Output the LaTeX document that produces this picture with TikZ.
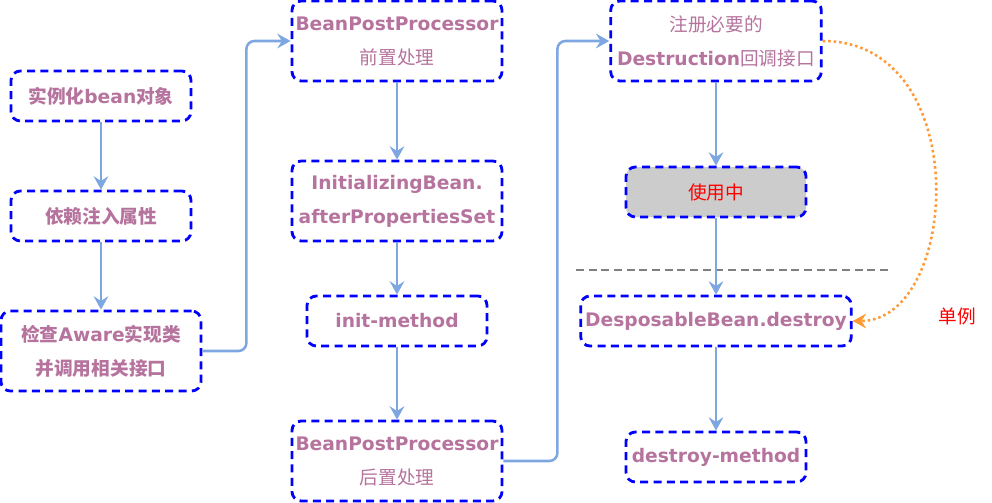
\documentclass[tikz,border=0pt]{standalone}
\usepackage{fontspec}
\setmainfont{DejaVu Sans}
\newfontfamily\cjk{Noto Sans CJK SC}
\usetikzlibrary{arrows.meta}
\definecolor{txtc}{RGB}{181,115,157}
\definecolor{arrc}{RGB}{126,166,224}
\definecolor{orng}{RGB}{255,153,51}
\newcommand{\cn}[1]{{\mdseries\cjk #1}}
\newcommand{\cnb}[1]{{\cjk #1}}

\begin{document}
\begin{tikzpicture}[x=0.75pt, y=-0.75pt,
	box/.style={draw=blue, line width=2.1pt, dash pattern=on 6pt off 4pt, rounded corners=7pt, inner sep=0pt, text=txtc, align=center, font=\bfseries\fontsize{14}{25.5}\selectfont},
	arr/.style={draw=arrc, line width=1.9pt, rounded corners=6pt, -{Stealth[length=10pt,width=11pt,inset=3.5pt]}}]
	\useasboundingbox (0,0) rectangle (992,503);
	% left column
	\node [box, minimum width=135pt, minimum height=37.5pt] (inst) at (101,96) {\cnb{实例化}bean\cnb{对象}};
	\node [box, minimum width=135pt, minimum height=37.5pt] (inj) at (101,216) {\cnb{依赖注入属性}};
	\node [box, minimum width=150pt, minimum height=60pt] (awr) at (101,351) {\cnb{检查}Aware\cnb{实现类}\\\cnb{并调用相关接口}};
	% middle column
	\node [box, minimum width=157.5pt, minimum height=60pt] (bpre) at (397,41) {BeanPostProcessor\\\cn{前置处理}};
	\node [box, minimum width=157.5pt, minimum height=60pt] (ini) at (397,201) {InitializingBean.\\afterPropertiesSet};
	\node [box, minimum width=135pt, minimum height=37.5pt] (imth) at (397,321) {init-method};
	\node [box, minimum width=157.5pt, minimum height=60pt] (bpost) at (397,461) {BeanPostProcessor\\\cn{后置处理}};
	% right column
	\node [box, minimum width=158pt, minimum height=60pt] (reg) at (716,41) {\cn{注册必要的}\\Destruction\cn{回调接口}};
	\node [box, fill={rgb,255:red,204;green,204;blue,204}, text=red, minimum width=135pt, minimum height=37.5pt] (use) at (716,192) {\cn{使用中}};
	\node [box, minimum width=203pt, minimum height=37.5pt] (dsp) at (716,321) {DesposableBean.destroy};
	\node [box, minimum width=135pt, minimum height=37.5pt] (dmth) at (716,457) {destroy-method};
	\draw [gray, line width=1.9pt, dash pattern=on 6pt off 3.5pt] (576,270) -- (892,270);
	\node [text=red, font=\fontsize{14}{16}\selectfont] (sgl) at (957,316) {\cn{单例}};

	\draw [arr] (inst) -- (inj);
	\draw [arr] (inj) -- (awr);
	\draw [arr] (awr.east) -- ++(44,0) |- (bpre.west);
	\draw [arr] (bpre) -- (ini);
	\draw [arr] (ini) -- (imth);
	\draw [arr] (imth) -- (bpost);
	\draw [arr] (bpost.east) -- ++(54,0) |- (reg.west);
	\draw [arr] (reg) -- (use);
	\draw [arr] (use) -- (dsp);
	\draw [arr] (dsp) -- (dmth);
	\draw [orng, line width=1.9pt, dash pattern=on 1.9pt off 2.2pt, -{Stealth[length=10pt,width=11pt,inset=3.5pt]}] (reg.east) .. controls (975,41) and (960,321) .. (dsp.east);
\end{tikzpicture}
\end{document}
